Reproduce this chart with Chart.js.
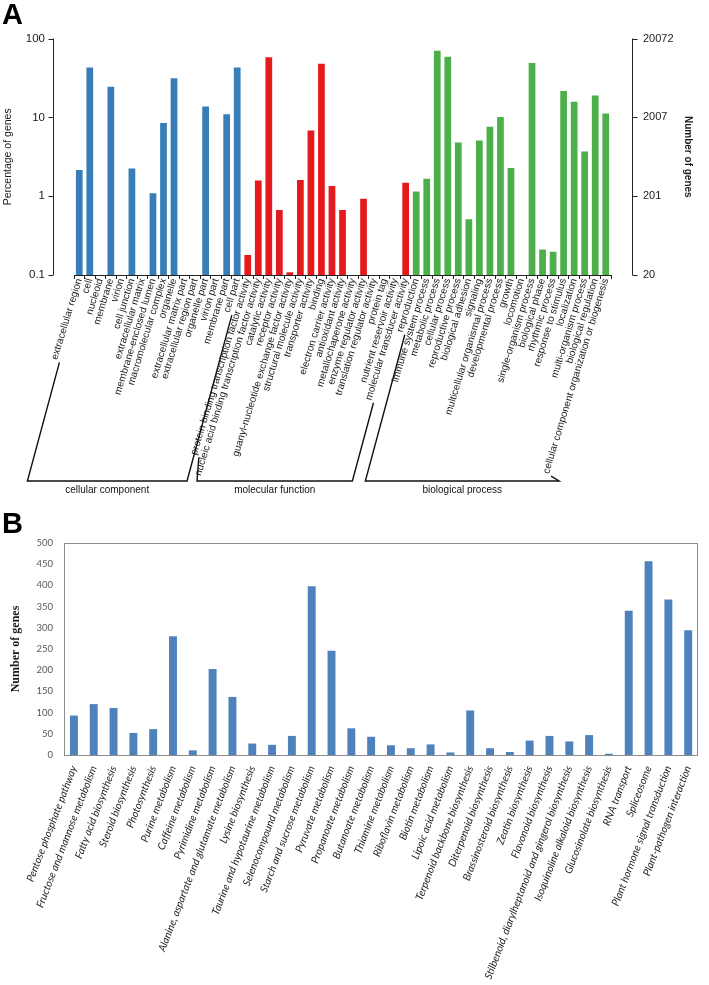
<!DOCTYPE html>
<html><head><meta charset="utf-8">
<script src="https://cdn.jsdelivr.net/npm/chart.js@4.4.1/dist/chart.umd.min.js"></script>
<style>
html,body{margin:0;padding:0;background:#fff;}
#wrapA{position:absolute;left:0;top:0;width:709px;height:505px;}
#wrapB{position:absolute;left:0;top:510px;width:709px;height:475px;}
</style></head><body>
<div id="wrapA"><canvas id="chartA" width="709" height="505"></canvas></div>
<div id="wrapB"><canvas id="chartB" width="709" height="475"></canvas></div>
<script>
// ---------- Panel A data (GO classification, % of genes, log scale) ----------
const groupNames = ['cellular component', 'molecular function', 'biological process'];
const ccLabels = ['extracellular region','cell','nucleoid','membrane','virion','cell junction','extracellular matrix','membrane-enclosed lumen','macromolecular complex','organelle','extracellular matrix part','extracellular region part','organelle part','virion part','membrane part','cell part'];
const ccValues = [2.15, 43, null, 24.4, null, 2.25, null, 1.09, 8.5, 31.4, null, null, 13.8, null, 11, 43];
const mfLabels = ['protein binding transcription factor activity','nucleic acid binding transcription factor activity','catalytic activity','receptor activity','guanyl-nucleotide exchange factor activity','structural molecule activity','transporter activity','binding','electron carrier activity','antioxidant activity','metallochaperone activity','enzyme regulator activity','translation regulator activity','protein tag','nutrient reservoir activity','molecular transducer activity'];
const mfValues = [0.18, 1.58, 57.8, 0.67, 0.108, 1.61, 6.8, 48, 1.35, 0.67, null, 0.93, null, null, null, 1.48];
const bpLabels = ['reproduction','immune system process','metabolic process','cellular process','reproductive process','biological adhesion','signaling','multicellular organismal process','developmental process','growth','locomotion','single-organism process','biological phase','rhythmic process','response to stimulus','localization','multi-organism process','biological regulation','cellular component organization or biogenesis'];
const bpValues = [1.15, 1.66, 70, 59, 4.8, 0.51, 5.1, 7.6, 10.1, 2.28, null, 49, 0.21, 0.197, 21.7, 15.8, 3.7, 19, 11.2];
const leftTickValues = [0.1, 1, 10, 100];
const leftTickLabels = ['0.1', '1', '10', '100'];
const totalGenes = 20072;
const rightTickLabels = ['20', '201', '2007', '20072'];

// ---------- Panel B data (KEGG pathways, number of genes) ----------
const keggLabels = ['Pentose phosphate pathway','Fructose and mannose metabolism','Fatty acid biosynthesis','Steroid biosynthesis','Photosynthesis','Purine metabolism','Caffeine metabolism','Pyrimidine metabolism','Alanine, aspartate and glutamate metabolism','Lysine biosynthesis','Taurine and hypotaurine metabolism','Selenocompound metabolism','Starch and sucrose metabolism','Pyruvate metabolism','Propanoate metabolism','Butanoate metabolism','Thiamine metabolism','Riboflavin metabolism','Biotin metabolism','Lipoic acid metabolism','Terpenoid backbone biosynthesis','Diterpenoid biosynthesis','Brassinosteroid biosynthesis','Zeatin biosynthesis','Flavonoid biosynthesis','Stilbenoid, diarylheptanoid and gingerol biosynthesis','Isoquinoline alkaloid biosynthesis','Glucosinolate biosynthesis','RNA transport','Spliceosome','Plant hormone signal transduction','Plant-pathogen interaction'];
const keggValues = [93, 120, 111, 52, 61, 280, 11, 203, 137, 27, 24, 45, 398, 246, 63, 43, 23, 16, 25, 6, 105, 16, 7, 34, 45, 32, 47, 3, 340, 457, 367, 294];
const keggMax = 500;
const keggStep = 50;

// ---------- styling ----------
const SANS = '"Liberation Sans", Arial, Helvetica, sans-serif';
const groupColors = ['#377EB8', '#E41A1C', '#4DAF4A'];
const ROT_A = 73;
const ROT_B = 69;
const A_TICKLEN = 4, A_PAD = -2, A_FONT = 10;

const aLabels = ccLabels.concat(mfLabels, bpLabels);
const aValues = ccValues.concat(mfValues, bpValues);
const aColors = ccLabels.map(() => groupColors[0])
  .concat(mfLabels.map(() => groupColors[1]), bpLabels.map(() => groupColors[2]));
const groups = [
  {name: groupNames[0], start: 0, end: ccLabels.length - 1},
  {name: groupNames[1], start: ccLabels.length, end: ccLabels.length + mfLabels.length - 1},
  {name: groupNames[2], start: ccLabels.length + mfLabels.length, end: aLabels.length - 1}
];

const decorA = {
  id: 'decorA',
  afterDraw(chart) {
    const ctx = chart.ctx, ca = chart.chartArea;
    const x = chart.scales.x, y = chart.scales.y, y2 = chart.scales.y2;
    ctx.save();
    ctx.strokeStyle = '#222'; ctx.lineWidth = 1;
    // left axis (R style, detached)
    const lx = Math.round(ca.left - 21) + 0.5;
    ctx.beginPath();
    ctx.moveTo(lx, y.getPixelForValue(leftTickValues[0]));
    ctx.lineTo(lx, y.getPixelForValue(leftTickValues[leftTickValues.length - 1]));
    leftTickValues.forEach(v => {
      const py = Math.round(y.getPixelForValue(v)) + 0.5;
      ctx.moveTo(lx, py); ctx.lineTo(lx - 5, py);
    });
    ctx.stroke();
    // right axis
    const rx = Math.round(ca.right + 21) + 0.5;
    const rVals = y2.ticks.map(t => t.value);
    ctx.beginPath();
    ctx.moveTo(rx, y2.getPixelForValue(rVals[0]));
    ctx.lineTo(rx, y2.getPixelForValue(rVals[rVals.length - 1]));
    rVals.forEach(v => {
      const py = Math.round(y2.getPixelForValue(v)) + 0.5;
      ctx.moveTo(rx, py); ctx.lineTo(rx + 5, py);
    });
    ctx.stroke();

    // group brackets with leader lines
    const th = ROT_A * Math.PI / 180;
    const lh = A_FONT * 1.2;
    ctx.font = A_FONT + 'px ' + SANS;
    const labelEnd = (i) => {
      const w = ctx.measureText(aLabels[i]).width + 3;
      const ax = x.getPixelForTick(i) + (lh / 2) * Math.sin(th);
      const ay = x.top + A_TICKLEN + A_PAD + (lh / 2) * Math.cos(th);
      return {x: ax - w * Math.cos(th), y: ay + w * Math.sin(th)};
    };
    const by = ca.bottom + 206;
    const slope = 0.27;
    let prevRight = -Infinity;
    ctx.lineWidth = 1.4;
    ctx.strokeStyle = '#111';
    groups.forEach(g => {
      const e1 = labelEnd(g.start), e2 = labelEnd(g.end);
      let xl = e1.x - (by - e1.y) * slope;
      let xr = e2.x - (by - e2.y) * slope;
      if (xl < prevRight + 10) xl = prevRight + 10;
      if (xr < e2.x + 2 && by - e2.y < 10) xr = e2.x + 8;
      prevRight = xr;
      ctx.beginPath();
      ctx.moveTo(e1.x, e1.y); ctx.lineTo(xl, by); ctx.lineTo(xr, by); ctx.lineTo(e2.x, e2.y);
      ctx.stroke();
      ctx.fillStyle = '#111';
      ctx.font = A_FONT + 'px ' + SANS;
      ctx.textAlign = 'center'; ctx.textBaseline = 'top';
      ctx.fillText(g.name, (xl + xr) / 2, by + 4);
      ctx.font = A_FONT + 'px ' + SANS;
    });
    // panel letter
    ctx.fillStyle = '#000';
    ctx.font = 'bold 29px ' + SANS;
    ctx.textAlign = 'left'; ctx.textBaseline = 'alphabetic';
    ctx.fillText('A', 2, 24);
    ctx.restore();
  }
};

new Chart(document.getElementById('chartA'), {
  type: 'bar',
  data: {
    labels: aLabels,
    datasets: [{data: aValues, backgroundColor: aColors, borderWidth: 0,
      categoryPercentage: 1, barPercentage: 0.64, yAxisID: 'y'}]
  },
  options: {
    responsive: false, animation: false, devicePixelRatio: 1,
    layout: {padding: {top: 37, left: 0, right: 0, bottom: 0}},
    plugins: {legend: {display: false}, tooltip: {enabled: false}},
    scales: {
      x: {
        grid: {display: true, drawOnChartArea: false, drawTicks: true, tickLength: A_TICKLEN, offset: true, color: '#222'},
        border: {display: true, color: '#222', width: 1},
        ticks: {autoSkip: false, minRotation: ROT_A, maxRotation: ROT_A, padding: A_PAD, color: '#1a1a1a',
          font: {family: SANS, size: A_FONT}},
        afterFit(s) { s.height = 230; }
      },
      y: {
        type: 'logarithmic', position: 'left',
        min: leftTickValues[0], max: leftTickValues[leftTickValues.length - 1],
        grid: {display: false, drawTicks: false}, border: {display: false},
        afterBuildTicks(s) { s.ticks = leftTickValues.map(v => ({value: v})); },
        ticks: {padding: 29, color: '#1a1a1a', font: {family: SANS, size: 11.5},
          callback: (v, i) => leftTickLabels[i]},
        title: {display: true, text: 'Percentage of genes', color: '#1a1a1a',
          font: {family: SANS, size: 10.5}, padding: {top: 2, bottom: 0}},
        afterFit(s) { s.width = 74; }
      },
      y2: {
        type: 'logarithmic', position: 'right',
        min: totalGenes * leftTickValues[0] / 100, max: totalGenes * leftTickValues[leftTickValues.length - 1] / 100,
        grid: {display: false, drawTicks: false}, border: {display: false},
        afterBuildTicks(s) { s.ticks = leftTickValues.map(v => ({value: totalGenes * v / 100})); },
        ticks: {padding: 32, color: '#1a1a1a', font: {family: SANS, size: 11},
          callback: (v, i) => rightTickLabels[i]},
        title: {display: true, text: 'Number of genes', color: '#1a1a1a',
          font: {family: SANS, size: 10, weight: 'bold'}, padding: {top: 15, bottom: 0}},
        afterFit(s) { s.width = 98; }
      }
    }
  },
  plugins: [decorA]
});

// ---------- Panel B ----------
const decorB = {
  id: 'decorB',
  afterDraw(chart) {
    const ctx = chart.ctx, ca = chart.chartArea;
    ctx.save();
    ctx.strokeStyle = '#8c8c8c'; ctx.lineWidth = 1;
    ctx.strokeRect(Math.round(ca.left) + 0.5, Math.round(ca.top) + 0.5,
      Math.round(ca.right - ca.left) - 1, Math.round(ca.bottom - ca.top));
    ctx.fillStyle = '#000';
    ctx.font = 'bold 29px ' + SANS;
    ctx.textAlign = 'left'; ctx.textBaseline = 'alphabetic';
    ctx.fillText('B', 2, 23);
    ctx.restore();
  }
};

new Chart(document.getElementById('chartB'), {
  type: 'bar',
  data: {
    labels: keggLabels,
    datasets: [{data: keggValues, backgroundColor: '#4F81BD', borderWidth: 0,
      categoryPercentage: 1, barPercentage: 0.4}]
  },
  options: {
    responsive: false, animation: false, devicePixelRatio: 1,
    layout: {padding: {top: 33, right: 3, left: 0, bottom: 0}},
    plugins: {legend: {display: false}, tooltip: {enabled: false}},
    scales: {
      x: {
        grid: {display: false, drawTicks: false}, border: {display: false},
        ticks: {autoSkip: false, minRotation: ROT_B, maxRotation: ROT_B, padding: 9, color: '#262626',
          font: {family: 'Lato, "Open Sans", sans-serif', style: 'italic', size: 10.5}},
        afterFit(s) { s.height = 230; }
      },
      y: {
        min: 0, max: keggMax,
        grid: {display: false, drawTicks: false}, border: {display: false},
        ticks: {stepSize: keggStep, padding: 11, color: '#595959',
          font: {family: 'Lato, "Open Sans", sans-serif', size: 9.5}},
        title: {display: true, text: 'Number of genes', color: '#1a1a1a',
          font: {family: '"Liberation Serif", "DejaVu Serif", serif', size: 12, weight: 'bold'},
          padding: {top: 9, bottom: 0}},
        afterFit(s) { s.width = 64; }
      }
    }
  },
  plugins: [decorB]
});
</script>
</body></html>
